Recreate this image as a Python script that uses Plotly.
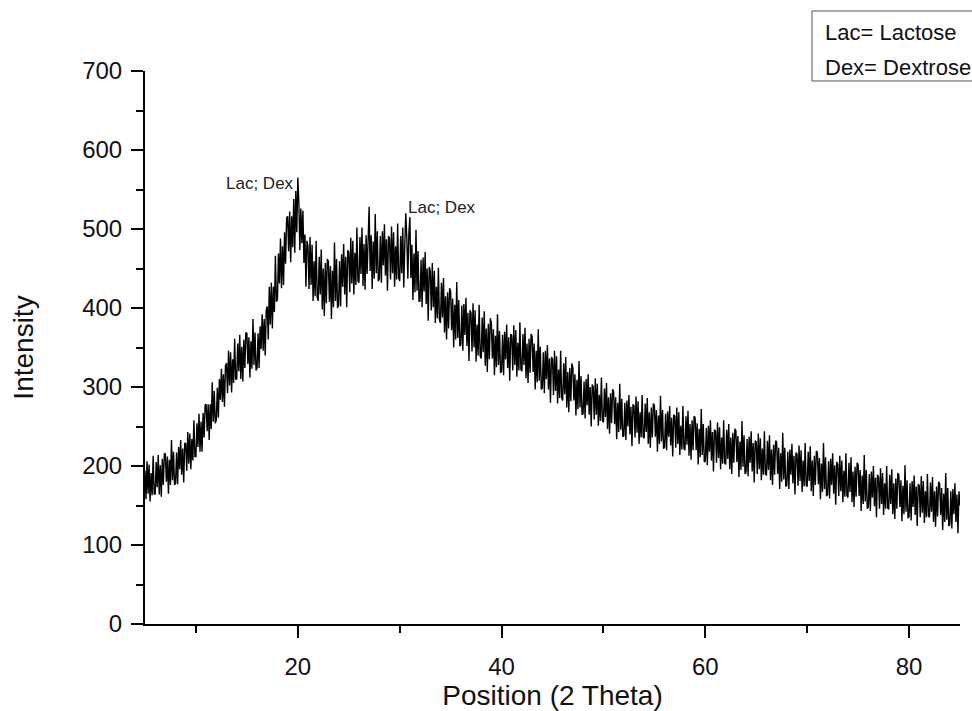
import plotly.graph_objects as go

# 2-theta grid: 5.0 to 85.0 in 0.1 steps (801 points)
x_start = 5.0
x_step = 0.1

# Intensity (noisy XRD trace), 10 values per degree
intensity = [
    194, 158, 206, 165, 202, 155, 191, 163, 213, 165,   # 5
    164, 205, 173, 214, 164, 201, 161, 209, 176, 216,   # 6
    215, 180, 212, 165, 208, 176, 233, 182, 218, 176,   # 7
    178, 217, 177, 224, 196, 233, 189, 222, 179, 229,   # 8
    228, 194, 243, 203, 241, 196, 234, 207, 258, 212,   # 9
    212, 254, 224, 266, 218, 256, 218, 267, 236, 277,   # 10
    278, 244, 278, 233, 278, 247, 306, 256, 295, 254,   # 11
    258, 299, 261, 310, 284, 323, 281, 316, 275, 327,   # 12
    330, 292, 346, 302, 344, 293, 335, 305, 361, 310,   # 13
    310, 355, 320, 366, 310, 351, 307, 360, 324, 369,   # 14
    368, 329, 363, 312, 358, 323, 386, 328, 369, 321,   # 15
    324, 368, 324, 377, 348, 392, 346, 386, 340, 397,   # 16
    402, 360, 427, 379, 432, 374, 427, 395, 466, 408,   # 17
    411, 469, 431, 488, 425, 478, 429, 496, 456, 514,   # 18
    516, 472, 522, 458, 516, 477, 538, 470, 548, 496,   # 19
    565, 535, 473, 526, 482, 523, 457, 493, 427, 485,   # 20
    478, 424, 490, 429, 480, 409, 459, 415, 485, 414,   # 21
    409, 465, 417, 474, 398, 450, 390, 457, 406, 462,   # 22
    459, 408, 453, 386, 447, 401, 483, 409, 462, 400,   # 23
    404, 459, 402, 468, 427, 481, 417, 465, 401, 473,   # 24
    471, 420, 489, 431, 485, 417, 470, 429, 502, 434,   # 25
    432, 490, 443, 502, 428, 481, 423, 492, 443, 500,   # 26
    528, 447, 492, 424, 484, 437, 519, 444, 497, 434,   # 27
    437, 491, 432, 497, 454, 506, 441, 487, 422, 491,   # 28
    488, 436, 503, 444, 496, 427, 478, 436, 507, 438,   # 29
    434, 491, 444, 502, 426, 479, 520, 488, 437, 494,   # 30
    515, 438, 480, 410, 469, 420, 499, 422, 472, 408,   # 31
    409, 461, 401, 464, 421, 471, 405, 450, 384, 452,   # 32
    447, 397, 457, 401, 447, 381, 427, 387, 451, 385,   # 33
    381, 432, 388, 438, 369, 415, 360, 420, 374, 425,   # 34
    421, 372, 412, 350, 404, 360, 433, 362, 410, 352,   # 35
    353, 403, 346, 405, 366, 413, 352, 394, 333, 397,   # 36
    394, 345, 406, 350, 397, 332, 379, 340, 404, 339,   # 37
    336, 388, 344, 396, 327, 374, 319, 380, 335, 387,   # 38
    381, 336, 373, 315, 365, 325, 392, 328, 371, 318,   # 39
    320, 366, 315, 370, 335, 379, 324, 363, 308, 367,   # 40
    365, 321, 378, 328, 372, 313, 356, 321, 382, 322,   # 41
    320, 367, 328, 375, 311, 355, 305, 361, 318, 367,   # 42
    364, 319, 355, 297, 346, 306, 373, 308, 351, 297,   # 43
    299, 344, 292, 346, 310, 353, 297, 336, 280, 338,   # 44
    335, 290, 346, 295, 339, 279, 322, 286, 346, 286,   # 45
    283, 330, 291, 338, 274, 319, 268, 324, 282, 330,   # 46
    324, 283, 316, 264, 309, 272, 333, 274, 314, 265,   # 47
    266, 307, 260, 310, 277, 316, 265, 300, 250, 303,   # 48
    300, 259, 311, 265, 304, 251, 290, 257, 312, 258,   # 49
    255, 298, 262, 305, 247, 287, 241, 292, 254, 297,   # 50
    294, 253, 287, 234, 280, 243, 304, 246, 285, 237,   # 51
    238, 280, 233, 283, 250, 290, 240, 275, 225, 278,   # 52
    276, 236, 288, 242, 282, 228, 268, 236, 290, 237,   # 53
    235, 279, 243, 286, 228, 268, 223, 274, 236, 279,   # 54
    277, 237, 271, 218, 264, 228, 289, 231, 271, 222,   # 55
    224, 266, 220, 269, 237, 276, 226, 261, 212, 265,   # 56
    263, 223, 274, 228, 268, 214, 251, 221, 276, 222,   # 57
    220, 263, 227, 270, 213, 253, 208, 258, 220, 263,   # 58
    261, 220, 254, 202, 247, 211, 272, 214, 253, 205,   # 59
    206, 248, 201, 251, 218, 258, 207, 243, 193, 246,   # 60
    244, 204, 255, 210, 249, 196, 236, 203, 258, 204,   # 61
    202, 246, 209, 253, 196, 236, 190, 242, 204, 247,   # 62
    245, 205, 238, 186, 231, 195, 257, 199, 239, 190,   # 63
    192, 234, 187, 237, 204, 244, 193, 229, 179, 232,   # 64
    230, 190, 241, 196, 235, 182, 222, 189, 244, 190,   # 65
    188, 232, 195, 239, 182, 221, 176, 227, 189, 232,   # 66
    230, 190, 223, 171, 216, 180, 242, 183, 223, 174,   # 67
    176, 218, 171, 221, 189, 228, 178, 213, 164, 217,   # 68
    215, 175, 226, 181, 220, 167, 207, 174, 229, 176,   # 69
    174, 218, 181, 225, 168, 207, 162, 213, 176, 219,   # 70
    217, 177, 210, 158, 203, 167, 229, 171, 211, 162,   # 71
    164, 206, 159, 209, 176, 216, 165, 201, 151, 205,   # 72
    202, 162, 213, 168, 207, 154, 194, 161, 216, 163,   # 73
    160, 204, 167, 211, 154, 193, 148, 199, 161, 204,   # 74
    202, 162, 195, 143, 188, 152, 214, 155, 195, 146,   # 75
    148, 190, 143, 193, 160, 200, 149, 185, 135, 189,   # 76
    186, 146, 197, 152, 191, 138, 178, 146, 200, 147,   # 77
    145, 189, 152, 196, 139, 178, 133, 184, 146, 191,   # 78
    188, 148, 182, 130, 175, 139, 201, 142, 182, 134,   # 79
    136, 178, 131, 181, 148, 188, 138, 174, 124, 177,   # 80
    175, 135, 187, 141, 181, 128, 168, 135, 190, 137,   # 81
    135, 179, 142, 186, 129, 168, 123, 174, 136, 180,   # 82
    178, 138, 172, 119, 165, 129, 191, 132, 172, 124,   # 83
    126, 168, 121, 171, 139, 178, 129, 164, 115, 168,   # 84
    150,                                                # 85
]
two_theta = [round(x_start + x_step * i, 2) for i in range(len(intensity))]

x_ticks = [20, 40, 60, 80]
x_minor = [10, 30, 50, 70]
y_ticks = [0, 100, 200, 300, 400, 500, 600, 700]

peak_labels = ["Lac; Dex", "Lac; Dex"]
peak_label_x = [12.8, 30.6]
peak_label_y = [558, 527]

legend_lines = ["Lac= Lactose", "Dex= Dextrose"]

FONT = "Arial, Liberation Sans, sans-serif"

fig = go.Figure()
fig.add_trace(go.Scatter(
    x=two_theta, y=intensity, mode="lines",
    line=dict(color="black", width=1.4), showlegend=False,
))

for txt, lx, ly in zip(peak_labels, peak_label_x, peak_label_y):
    fig.add_annotation(x=lx, y=ly, xref="x", yref="y", text=txt,
                       showarrow=False, xanchor="left", yanchor="middle",
                       font=dict(family=FONT, size=17, color="#222"))

# legend-like text box (top right, partly cut off by the page edge)
fig.add_shape(type="rect", xref="paper", yref="paper",
              x0=0.8184, x1=1.03, y0=0.982, y1=1.1085,
              line=dict(color="#555", width=1), fillcolor="white")
fig.add_annotation(x=0.8319, y=1.0705, xref="paper", yref="paper",
                   text=legend_lines[0], showarrow=False, xanchor="left",
                   yanchor="middle", font=dict(family=FONT, size=22, color="#111"))
fig.add_annotation(x=0.8319, y=1.0072, xref="paper", yref="paper",
                   text=legend_lines[1], showarrow=False, xanchor="left",
                   yanchor="middle", font=dict(family=FONT, size=22, color="#111"))

fig.update_layout(
    width=972, height=711,
    margin=dict(l=145, r=12, t=71, b=87),
    paper_bgcolor="white", plot_bgcolor="white",
    font=dict(family=FONT, color="#111"),
)
fig.update_xaxes(
    range=[5, 85], tickvals=x_ticks, ticks="outside", ticklen=12, tickwidth=2,
    tickcolor="black", showline=True, linecolor="black", linewidth=2,
    showgrid=False, zeroline=False, ticklabelstandoff=8, automargin=False,
    tickfont=dict(family=FONT, size=24, color="#111"),
    minor=dict(tickvals=x_minor, ticks="outside", ticklen=7,
               tickwidth=2, tickcolor="black", showgrid=False),
    title=dict(text="Position (2 Theta)", font=dict(family=FONT, size=28, color="#111"),
               standoff=19),
)
fig.update_yaxes(
    range=[0, 700], tickvals=y_ticks, ticks="outside", ticklen=12, tickwidth=2,
    tickcolor="black", showline=True, linecolor="black", linewidth=2,
    showgrid=False, zeroline=False, ticklabelstandoff=4, automargin=False,
    tickfont=dict(family=FONT, size=24, color="#111"),
    minor=dict(dtick=50, ticks="outside", ticklen=7, tickwidth=2,
               tickcolor="black", showgrid=False),
    title=dict(text="Intensity", font=dict(family=FONT, size=28, color="#111"),
               standoff=40),
)

fig.write_html("out.html")
